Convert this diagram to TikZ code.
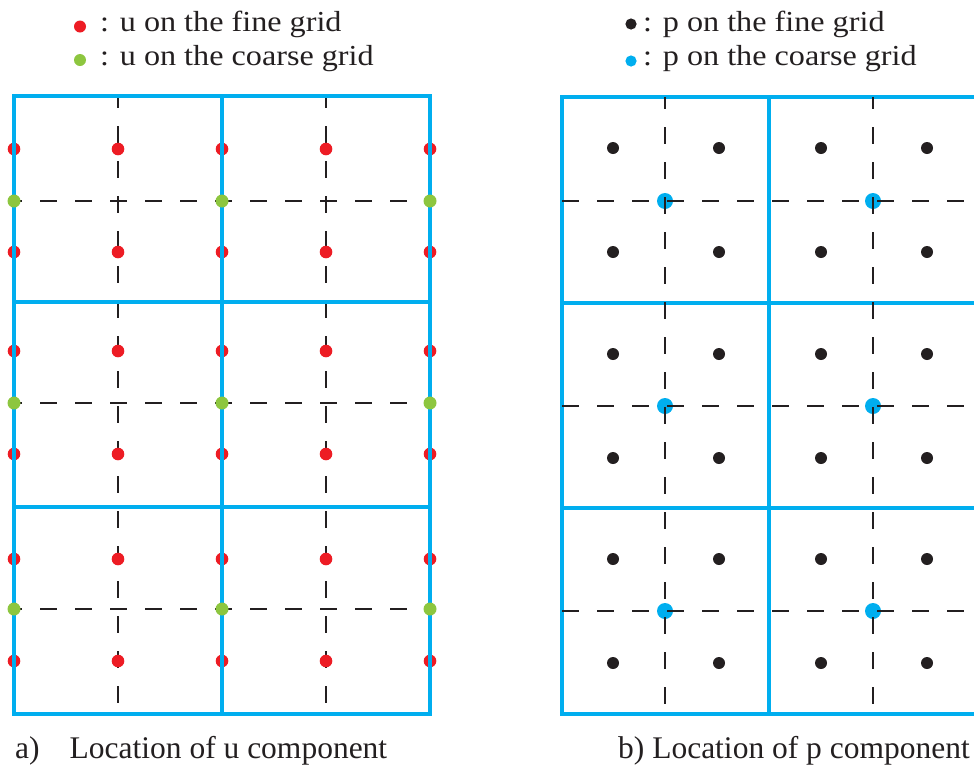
\documentclass[tikz,border=0pt]{standalone}
\usepackage{fontspec}
\setmainfont{Liberation Serif}
\definecolor{gridblue}{RGB}{0,174,239}
\definecolor{ured}{RGB}{237,28,36}
\definecolor{ugreen}{RGB}{141,198,63}
\definecolor{pblack}{RGB}{35,31,32}
\newcommand{\legwide}[1]{\scalebox{1.11}[1]{#1}}
\tikzset{
  coarse/.style={draw=gridblue, line width=4pt},
  fine/.style={draw=pblack, line width=1.2pt, dash pattern=on 17pt off 18pt},
  legtext/.style={anchor=base west, inner sep=0pt, font=\fontsize{29}{34}\selectfont, text=pblack},
  captext/.style={inner sep=0pt, font=\fontsize{31.5}{36}\selectfont, text=pblack}
}
\begin{document}
\begin{tikzpicture}[x=1pt,y=-1pt]
\useasboundingbox (0,0) rectangle (974,769);
\clip (0,0) rectangle (974,769);
% ---------- legend ----------
\fill[ured] (80,26.5) circle (6);
\fill[ugreen] (80,60) circle (6);
\node[legtext] (lu1) at (100,31.7) {\legwide{: u on the fine grid}};
\node[legtext] (lu2) at (100,65) {\legwide{: u on the coarse grid}};
\fill[pblack] (631,24) circle (5.6);
\fill[gridblue] (631,61) circle (5.6);
\node[legtext] (lp1) at (643,31.7) {\legwide{: p on the fine grid}};
\node[legtext] (lp2) at (643,65) {\legwide{: p on the coarse grid}};
% ---------- left grid (u) ----------
\foreach \x in {118,326} \draw[fine, dash phase=5pt] (\x,96) -- (\x,714);
\foreach \y in {201,403,609} \draw[fine, dash phase=9pt] (14,\y) -- (430,\y);
\foreach \x in {14,118,222,326,430}
  \foreach \y in {149,252,351,454,559,661}
    \fill[ured] (\x,\y) circle (6.3);
\draw[coarse] (14,96) rectangle (430,714);
\draw[coarse] (222,96) -- (222,714);
\draw[coarse] (14,302) -- (430,302);
\draw[coarse] (14,507) -- (430,507);
\foreach \x in {14,222,430}
  \foreach \y in {201,403,609}
    \fill[ugreen] (\x,\y) circle (6.5);
% ---------- right grid (p) ----------
\draw[coarse] (562,97) rectangle (976,714);
\draw[coarse] (769,97) -- (769,714);
\draw[coarse] (562,303) -- (976,303);
\draw[coarse] (562,508) -- (976,508);
\foreach \x in {613,719,821,927}
  \foreach \y in {148,252,354,458,559,663}
    \fill[pblack] (\x,\y) circle (6);
\foreach \x in {665,873}
  \foreach \y in {201,406,611}
    \fill[gridblue] (\x,\y) circle (8);
\foreach \x in {665,873} \draw[fine, dash phase=5pt] (\x,97) -- (\x,714);
\foreach \y in {201,406,611} \draw[fine] (562,\y) -- (976,\y);
% ---------- captions ----------
\node[captext, anchor=base west] (capa) at (15,758) {a)\hspace{30pt}Location of u component};
\node[captext, anchor=base east] (capb) at (970,758) {b) Location of p component};
\end{tikzpicture}
\end{document}
